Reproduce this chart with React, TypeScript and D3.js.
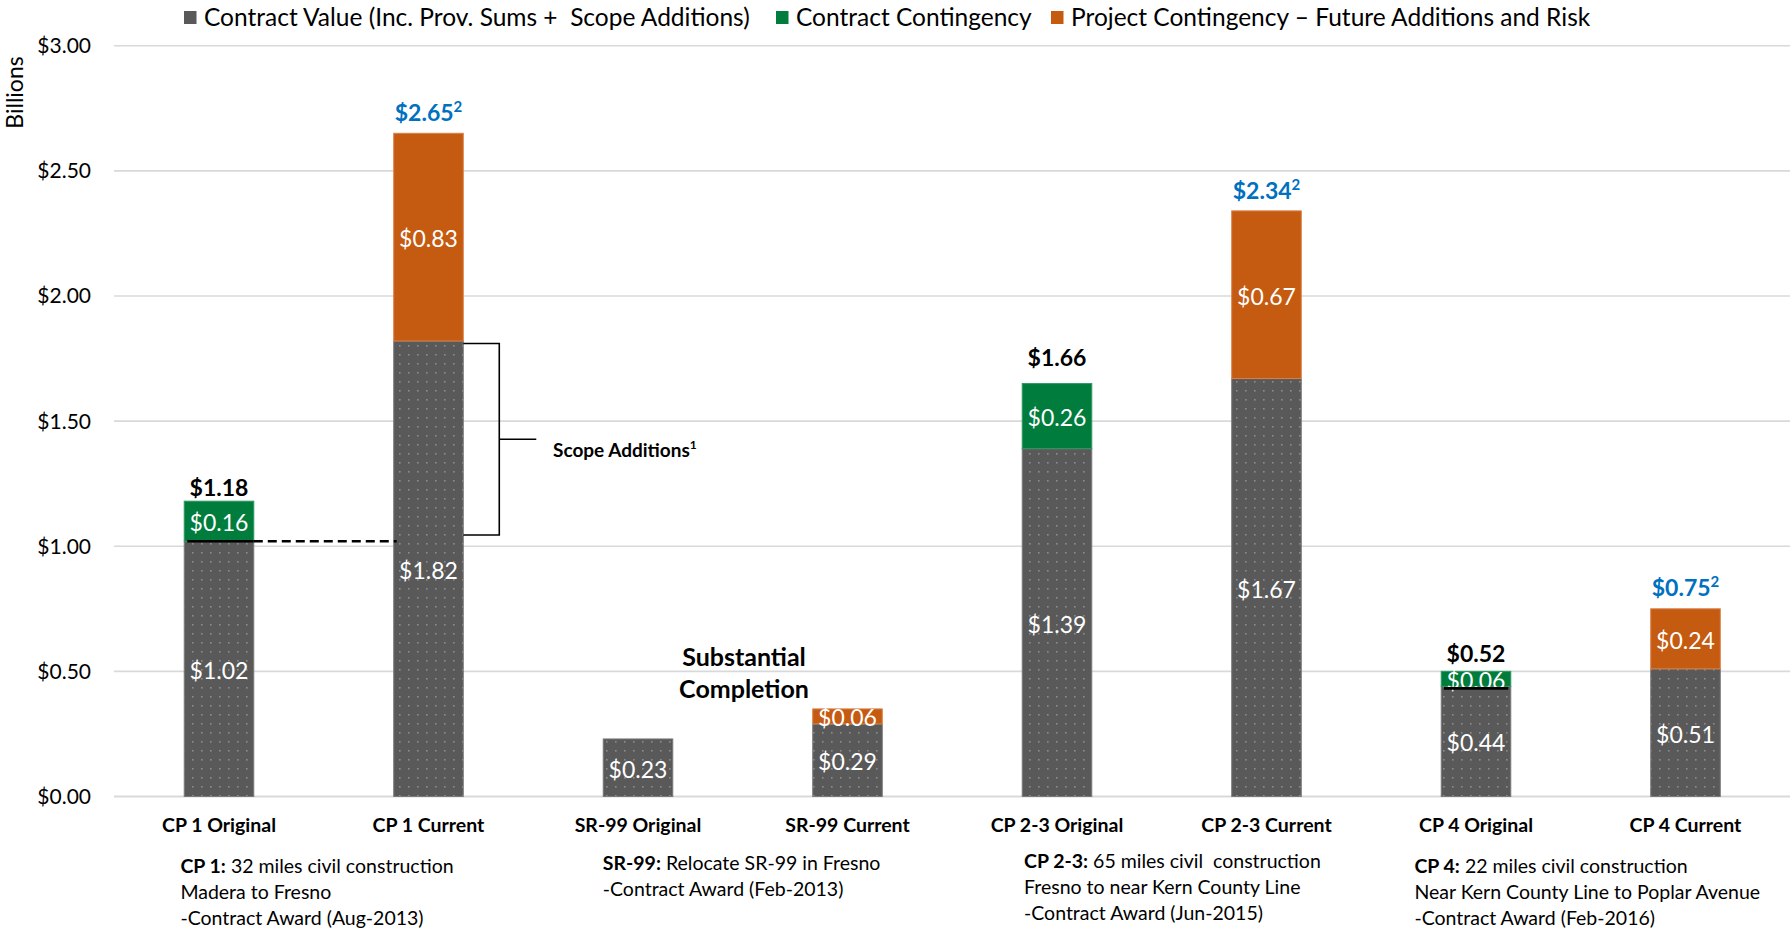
import React from "react";
import * as d3 from "d3";

const categories = [
  "CP 1 Original",
  "CP 1 Current",
  "SR-99 Original",
  "SR-99 Current",
  "CP 2-3 Original",
  "CP 2-3 Current",
  "CP 4 Original",
  "CP 4 Current",
];
const contractValue = [1.02, 1.82, 0.23, 0.29, 1.39, 1.67, 0.44, 0.51];
const contractContingency = [0.16, 0, 0, 0, 0.26, 0, 0.06, 0];
const projectContingency = [0, 0.83, 0, 0.06, 0, 0.67, 0, 0.24];
const totalLabels = ["$1.18", "$2.65", "", "", "$1.66", "$2.34", "$0.52", "$0.75"];
const totalIsCurrent = [false, true, false, false, false, true, false, true];
const yTicks = [0, 0.5, 1, 1.5, 2, 2.5, 3];

const seriesNames = [
  "Contract Value (Inc. Prov. Sums +  Scope Additions)",
  "Contract Contingency",
  "Project Contingency \u2013 Future Additions and Risk",
];
const seriesColors = ["#595959", "#007D3C", "#C55A11"];

const descBold = ["CP 1:", "SR-99:", "CP 2-3:", "CP 4:"];
const descLines = [
  [" 32 miles civil construction", "Madera to Fresno", "-Contract Award (Aug-2013)"],
  [" Relocate SR-99 in Fresno", "-Contract Award (Feb-2013)"],
  [" 65 miles civil  construction", "Fresno to near Kern County Line", "-Contract Award (Jun-2015)"],
  [" 22 miles civil construction", "Near Kern County Line to Poplar Avenue", "-Contract Award (Feb-2016)"],
];

// layout constants (not data)
const FONT = "Lato, 'Open Sans', sans-serif";
const CAP = 0.7165; // Lato cap height ratio
const W = 1790;
const H = 932;
const totalLabelGap = [5, 12.6, 0, 0, 17.7, 12, 9, 12.7];
const legendX = [184, 776, 1051];
const descX = [180.4, 602.8, 1024, 1414.4];
const descY = [865, 862, 860, 865];

const pre = { whiteSpace: "pre" as const };

export default function App() {
  const x = d3
    .scaleBand<string>()
    .domain(categories)
    .range([114.25, 1790.25])
    .paddingInner(0.668)
    .paddingOuter(0.334);
  const y = d3.scaleLinear().domain([0, 3]).range([796.5, 45.7]);
  const bw = x.bandwidth();

  const rows = categories.map((c, i) => ({
    c,
    vals: [contractValue[i], contractContingency[i], projectContingency[i]],
  }));
  const stack = d3
    .stack<any>()
    .keys(["0", "1", "2"])
    .value((d: any, k: string) => d.vals[+k]);
  const stacked = stack(rows as any);

  const totals = categories.map(
    (_, i) => contractValue[i] + contractContingency[i] + projectContingency[i]
  );

  const cp1o = x(categories[0])!;
  const cp1c = x(categories[1])!;
  const cp4o = x(categories[6])!;
  const yDash = y(contractValue[0]);
  const brX = cp1c + bw + 36;
  const brTop = y(1.81);
  const brBot = y(1.045);
  const brMid = (brTop + brBot) / 2;

  const vfs = 23;
  const legFs = 24.5;
  const tickFs = 21;
  const catFs = 19.5;
  const descFs = 19.5;

  return (
    <svg
      width={W}
      height={H}
      style={{ position: "absolute", left: 0, top: 0, background: "#fff" }}
      fontFamily={FONT}
    >
      <defs>
        <pattern id="dots" patternUnits="userSpaceOnUse" width={9} height={9}>
          <rect width={9} height={9} fill={seriesColors[0]} />
          <rect x={3} y={3} width={1.6} height={1.6} fill="#8c8c8c" />
        </pattern>
      </defs>

      {/* legend */}
      {seriesNames.map((n, i) => (
        <g key={n}>
          <rect x={legendX[i]} y={11} width={12.5} height={13} fill={seriesColors[i]} />
          <text x={legendX[i] + 20} y={17.5 + (CAP * legFs) / 2} fontSize={legFs} fill="#000" style={pre}>
            {n}
          </text>
        </g>
      ))}

      {/* gridlines + y ticks */}
      {yTicks.map((t) => (
        <g key={t}>
          <line x1={114} x2={W} y1={y(t)} y2={y(t)} stroke="#d9d9d9" strokeWidth={t === 0 ? 2 : 1.6} />
          <text x={91} y={y(t) + (CAP * tickFs) / 2} textAnchor="end" fontSize={tickFs} fill="#000">
            {"$" + t.toFixed(2)}
          </text>
        </g>
      ))}
      <text
        transform={`translate(${15 + (CAP * 23) / 2},92.5) rotate(-90)`}
        textAnchor="middle"
        fontSize={23}
        fill="#000"
      >
        Billions
      </text>

      {/* bars */}
      {stacked.map((layer, si) =>
        layer.map((d, i) => {
          const v = d[1] - d[0];
          if (v <= 0) return null;
          const x0 = x(categories[i])!;
          return (
            <g key={`${si}-${i}`}>
              <rect
                x={x0}
                y={y(d[1])}
                width={bw}
                height={y(d[0]) - y(d[1])}
                fill={si === 0 ? "url(#dots)" : seriesColors[si]}
                stroke={si === 0 ? "#7a7a7a" : si === 2 ? "#d9814a" : "#2e9960"}
                strokeWidth={1}
              />
              <text
                x={x0 + bw / 2}
                y={y((d[0] + d[1]) / 2) + (CAP * vfs) / 2 + 1.8}
                textAnchor="middle"
                fontSize={vfs}
                fill="#fff"
              >
                {"$" + v.toFixed(2)}
              </text>
            </g>
          );
        })
      )}

      {/* total labels */}
      {totalLabels.map((t, i) =>
        t ? (
          <text
            key={i}
            x={x(categories[i])! + bw / 2}
            y={y(totals[i]) - totalLabelGap[i]}
            textAnchor="middle"
            fontSize={23}
            fontWeight={700}
            fill={totalIsCurrent[i] ? "#0070C0" : "#000"}
          >
            {t}
            {totalIsCurrent[i] ? (
              <tspan fontSize={15} dy={-9}>
                2
              </tspan>
            ) : null}
          </text>
        ) : null
      )}

      {/* CP1 original line + dashed link */}
      <line x1={cp1o + 3} x2={cp1o + bw} y1={yDash} y2={yDash} stroke="#000" strokeWidth={2.6} />
      <line
        x1={cp1o + bw}
        x2={cp1c + 3}
        y1={yDash}
        y2={yDash}
        stroke="#000"
        strokeWidth={2.6}
        strokeDasharray="9,5"
      />
      {/* CP4 original line */}
      <line
        x1={cp4o + 2.5}
        x2={cp4o + bw - 2.5}
        y1={y(contractValue[6]) + 2}
        y2={y(contractValue[6]) + 2}
        stroke="#000"
        strokeWidth={2.6}
      />

      {/* scope additions bracket */}
      <path
        d={`M${cp1c + bw},${brTop}H${brX}V${brBot}H${cp1c + bw}M${brX},${brMid}H${brX + 37}`}
        fill="none"
        stroke="#000"
        strokeWidth={1.6}
      />
      <text x={553} y={450 + (CAP * 19) / 2} fontSize={19} fontWeight={700} fill="#000">
        Scope Additions
        <tspan fontSize={12} dy={-8}>
          1
        </tspan>
      </text>

      {/* substantial completion */}
      <text x={744} y={656.7 + (CAP * 25) / 2} textAnchor="middle" fontSize={25} fontWeight={700} fill="#000">
        Substantial
      </text>
      <text x={744} y={688.7 + (CAP * 25) / 2} textAnchor="middle" fontSize={25} fontWeight={700} fill="#000">
        Completion
      </text>

      {/* category labels */}
      {categories.map((c) => (
        <text
          key={c}
          x={x(c)! + bw / 2}
          y={825 + (CAP * catFs) / 2}
          textAnchor="middle"
          fontSize={catFs}
          fontWeight={700}
          fill="#000"
        >
          {c}
        </text>
      ))}

      {/* descriptions */}
      {descBold.map((b, i) => (
        <g key={b}>
          {descLines[i].map((l, j) => (
            <text
              key={j}
              x={descX[i]}
              y={descY[i] + 0.7 + j * 26.3 + (CAP * descFs) / 2}
              fontSize={descFs}
              fill="#000"
              style={pre}
            >
              {j === 0 ? <tspan fontWeight={700}>{b}</tspan> : null}
              {l}
            </text>
          ))}
        </g>
      ))}
    </svg>
  );
}
